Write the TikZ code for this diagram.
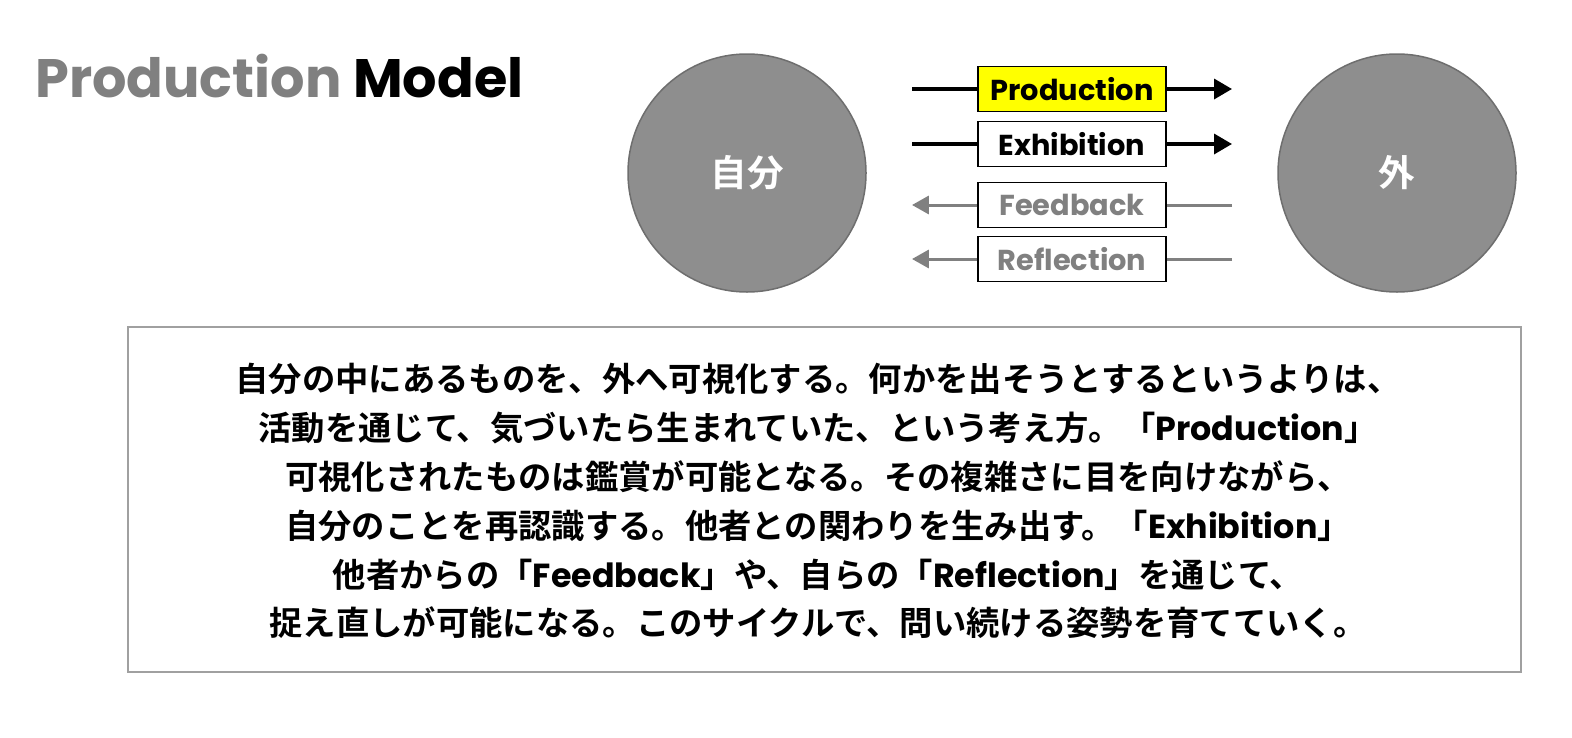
\documentclass[tikz,border=0pt]{standalone}
\usepackage{fontspec}
\usetikzlibrary{arrows.meta}
\setmainfont{Poppins}
\newfontfamily\jpfont{Noto Sans CJK JP}[BoldFont=* Bold]
\definecolor{circlegray}{HTML}{8E8E8E}
\definecolor{circleedge}{HTML}{6E6E6E}
\definecolor{textgray}{HTML}{808080}
\definecolor{boxyellow}{HTML}{FFFF00}
\definecolor{framegray}{HTML}{A0A0A0}
\newcommand{\px}{0.025cm}
\newcommand{\en}[1]{{\rmfamily\bfseries #1}}

\begin{document}
\begin{tikzpicture}[x=0.025cm,y=-0.025cm]
\tikzset{bigcircle/.style={draw=circleedge, circle, line width=1.5*\px, fill=circlegray, minimum size=238*\px, inner sep=0pt, text=white, font=\fontsize{26}{26}\selectfont\jpfont\bfseries},
         flowbox/.style={draw, line width=1.5*\px, fill=white, minimum width=188*\px, minimum height=45*\px, inner sep=0pt, font=\fontsize{20.5}{20.5}\selectfont\bfseries},
         forward/.style={line width=3.5*\px, black},
         backward/.style={line width=3*\px, textgray},
         descbox/.style={draw=framegray, line width=1.5*\px, minimum width=1393*\px, minimum height=345*\px, inner sep=0pt}}
    \useasboundingbox (0,0) rectangle (1572,737);

    \node[anchor=base west, inner sep=0pt, font=\fontsize{38.5}{38.5}\selectfont\bfseries] (title) at (35,97) {\textcolor{textgray}{Production} Model};

    \node[bigcircle] (self) at (747,173) {自分};
    \node[bigcircle] (outside) at (1397,173) {外};

    \node[flowbox, fill=boxyellow] (production) at (1072,89) {Production};
    \node[flowbox] (exhibition) at (1072,144) {Exhibition};
    \node[flowbox, text=textgray] (feedback) at (1072,205) {Feedback};
    \node[flowbox, text=textgray] (reflection) at (1072,259) {Reflection};

    \coordinate (production_l) at (912,89);
    \coordinate (production_r) at (1232,89);
    \coordinate (exhibition_l) at (912,144);
    \coordinate (exhibition_r) at (1232,144);
    \coordinate (feedback_l) at (912,205);
    \coordinate (feedback_r) at (1232,205);
    \coordinate (reflection_l) at (912,259);
    \coordinate (reflection_r) at (1232,259);

    \draw[forward] (production_l) -- (production);
    \draw[forward, -{Triangle[length=0.45cm, width=0.5cm]}] (production) -- (production_r);
    \draw[forward] (exhibition_l) -- (exhibition);
    \draw[forward, -{Triangle[length=0.45cm, width=0.5cm]}] (exhibition) -- (exhibition_r);
    \draw[backward] (feedback_r) -- (feedback);
    \draw[backward, -{Triangle[length=0.42cm, width=0.45cm]}] (feedback) -- (feedback_l);
    \draw[backward] (reflection_r) -- (reflection);
    \draw[backward, -{Triangle[length=0.42cm, width=0.45cm]}] (reflection) -- (reflection_l);

    \node[descbox] (desc) at (824.5,499.5) {};
    \node[align=center, inner sep=0pt, font=\fontsize{23.7}{34.8}\selectfont\jpfont\bfseries] (body) at (818,501)
    {自分の中にあるものを、外へ可視化する。何かを出そうとするというよりは、\\
     活動を通じて、気づいたら生まれていた、という考え方。「\en{Production}」\\
     可視化されたものは鑑賞が可能となる。その複雑さに目を向けながら、\\
     自分のことを再認識する。他者との関わりを生み出す。「\en{Exhibition}」\\
     他者からの「\en{Feedback}」や、自らの「\en{Reflection}」を通じて、\\
     捉え直しが可能になる。このサイクルで、問い続ける姿勢を育てていく。};
\end{tikzpicture}
\end{document}
